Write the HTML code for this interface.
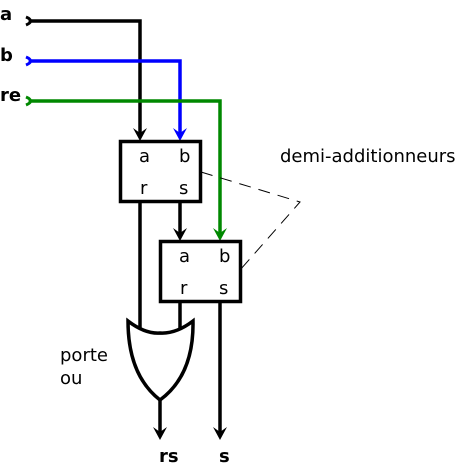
<!DOCTYPE html>
<html><head><style>
body{margin:0;background:#fff;}
svg{display:block;font-family:"DejaVu Sans","Liberation Sans",sans-serif;}
.t{font-size:18px;}
.b{font-size:18px;font-weight:bold;}
.w{fill:none;stroke-width:3.5px;}
</style></head><body>
<svg width="458" height="468" viewBox="0 0 458 468">
<text class="b" x="0" y="20">a</text><text class="b" x="0" y="61">b</text><text class="b" x="0" y="101">re</text>
<text class="b" x="159" y="462">rs</text><text class="b" x="219" y="462">s</text>
<path d="M26,17 Q31,19 30,21 Q31,23 26,25" style="fill:none;stroke:#000;stroke-width:3px"/>
<path d="M26,57 Q31,59 30,61 Q31,63 26,65" style="fill:none;stroke:#00f;stroke-width:3px"/>
<path d="M26,97 Q31,99 30,101 Q31,103 26,105" style="fill:none;stroke:#080;stroke-width:3px"/>
<path class="w" d="M30,21 H140 V135" style="stroke:#000"/>
<path class="w" d="M30,61 H180 V135" style="stroke:#00f"/>
<path class="w" d="M30,101 H220 V235" style="stroke:#080"/>
<path class="w" d="M180,202 V235" style="stroke:#000"/>
<path class="w" d="M140,202 V330" style="stroke:#000"/>
<path class="w" d="M180,302 V330" style="stroke:#000"/>
<path class="w" d="M220,302 V435" style="stroke:#000"/>
<path class="w" d="M160,400 V435" style="stroke:#000"/>
<path d="M133,128 L140,141 L147,128 L140,133 Z" style="fill:#000"/>
<path d="M173,128 L180,141 L187,128 L180,133 Z" style="fill:#00f"/>
<path d="M213,228 L220,241 L227,228 L220,233 Z" style="fill:#080"/>
<path d="M173,228 L180,241 L187,228 L180,233 Z" style="fill:#000"/>
<path d="M153,427 L160,440 L167,427 L160,432 Z" style="fill:#000"/>
<path d="M213,427 L220,440 L227,427 L220,432 Z" style="fill:#000"/>
<rect x="120.5" y="141.5" width="80" height="60" style="fill:none;stroke:#000;stroke-width:3.5px"/>
<rect x="160.5" y="241.5" width="80" height="60" style="fill:none;stroke:#000;stroke-width:3.5px"/>
<path d="M128,321 Q145,334 160,333 Q176,334 193,321 Q194,375 160,400 Q128,375 128,321 Z" style="fill:#fff;stroke:#000;stroke-width:3.5px"/>
<path d="M201,172 L300,202 L240,270" style="fill:none;stroke:#000;stroke-width:1px;stroke-dasharray:12,8"/>
<text class="t" x="139" y="162">a</text><text class="t" x="179" y="162">b</text>
<text class="t" x="140" y="194">r</text><text class="t" x="179" y="194">s</text>
<text class="t" x="179" y="262">a</text><text class="t" x="219" y="262">b</text>
<text class="t" x="180" y="294">r</text><text class="t" x="219" y="294">s</text>
<text class="t" x="280" y="162">demi-additionneurs</text>
<text class="t" x="60" y="361">porte</text><text class="t" x="60" y="384">ou</text>
</svg>
</body></html>
